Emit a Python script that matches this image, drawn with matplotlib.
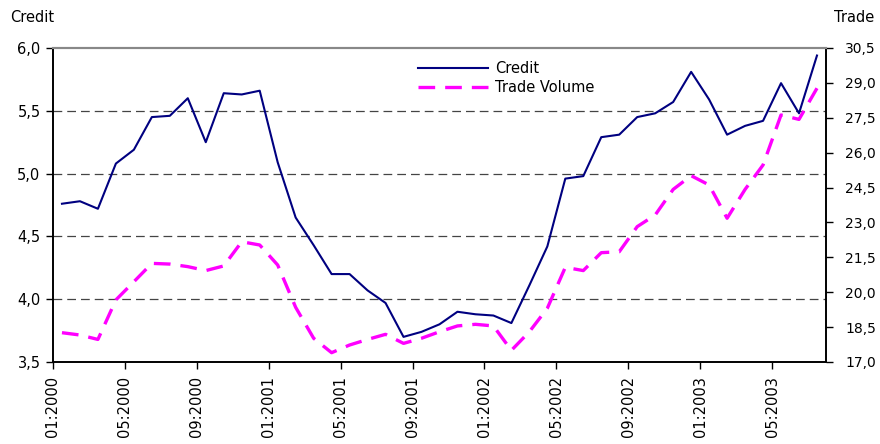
import numpy as np
import matplotlib
matplotlib.use("Agg")
import matplotlib.pyplot as plt
from matplotlib.ticker import FuncFormatter, FixedLocator

# monthly series, Jan 2000 .. Jul 2003
credit = [4.76, 4.78, 4.72, 5.08, 5.19, 5.45, 5.46, 5.60, 5.25, 5.64,
          5.63, 5.66, 5.09, 4.65, 4.43, 4.20, 4.20, 4.07, 3.97, 3.70,
          3.74, 3.80, 3.90, 3.88, 3.87, 3.81, 4.11, 4.42, 4.96, 4.98,
          5.29, 5.31, 5.45, 5.48, 5.57, 5.81, 5.59, 5.31, 5.38, 5.42,
          5.72, 5.48, 5.94]
trade = [18.26, 18.16, 17.97, 19.67, 20.45, 21.24, 21.21, 21.10, 20.93, 21.13,
         22.17, 22.03, 21.17, 19.35, 18.02, 17.40, 17.73, 17.97, 18.19, 17.80,
         18.02, 18.30, 18.55, 18.62, 18.55, 17.50, 18.30, 19.31, 21.07, 20.93,
         21.70, 21.74, 22.82, 23.32, 24.42, 25.01, 24.61, 23.18, 24.42, 25.47,
         27.62, 27.43, 28.77]
month_labels = ["01:2000", "05:2000", "09:2000", "01:2001", "05:2001", "09:2001",
                "01:2002", "05:2002", "09:2002", "01:2003", "05:2003"]

n = len(credit)
x = np.arange(n) + 0.5

comma = FuncFormatter(lambda v, p: ("%.1f" % v).replace(".", ","))

fig = plt.figure(figsize=(8.8, 4.44), dpi=100)
ax = fig.add_axes([0.0602, 0.1847, 0.8784, 0.7072])
ax2 = ax.twinx()

l1, = ax.plot(x, credit, color="#000080", lw=1.5, label="Credit")
l2, = ax2.plot(x, trade, color="#FF00FF", lw=2.4, ls=(0, (5, 3)), label="Trade Volume")

ax.set_xlim(0, n)
ax.set_ylim(3.5, 6.0)
ax2.set_ylim(17.0, 30.5)

ax.set_yticks(np.arange(3.5, 6.01, 0.5))
ax2.set_yticks(np.arange(17.0, 30.51, 1.5))
ax.yaxis.set_major_formatter(comma)
ax2.yaxis.set_major_formatter(comma)

for v in [4.0, 4.5, 5.0, 5.5]:
    ax.axhline(v, color="#444444", lw=0.9, ls=(0, (7, 4)), zorder=0)

ax.xaxis.set_major_locator(FixedLocator(np.arange(0, n, 4)))
ax.set_xticklabels(month_labels, rotation=90, family=["Liberation Sans Narrow", "DejaVu Sans"],
                   fontsize=12)

for a in (ax, ax2):
    a.tick_params(direction="out", length=5, width=1, colors="black", labelsize=10.5)
    for s in a.spines.values():
        s.set_linewidth(1.2)
    a.spines["top"].set_color("#888888")
    a.spines["top"].set_linewidth(1.5)
ax.tick_params(axis="x", pad=5)
ax.tick_params(axis="y", pad=4)
ax2.tick_params(axis="y", pad=9, labelsize=10)

fig.text(0.011, 0.96, "Credit", fontsize=10.5, ha="left", va="center")
fig.text(0.994, 0.96, "Trade", fontsize=10.5, ha="right", va="center")

ax.legend([l1, l2], ["Credit", "Trade Volume"], loc="upper left",
          bbox_to_anchor=(0.455, 1.0), frameon=False, fontsize=10.5,
          handlelength=4.8, handletextpad=0.5, labelspacing=0.25)

fig.savefig("out.png", dpi=100)
